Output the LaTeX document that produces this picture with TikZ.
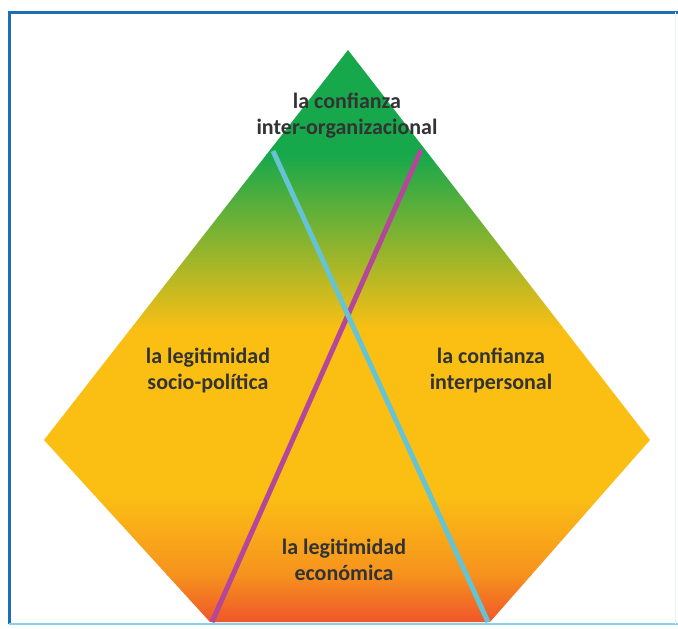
\documentclass[tikz,border=0pt]{standalone}
\usepackage{fontspec}
\setmainfont{Carlito}
\definecolor{frameblue}{HTML}{1E6FB2}
\definecolor{framelight}{HTML}{86D2EA}
\definecolor{pgreen}{HTML}{17A84B}
\definecolor{pyellow}{HTML}{FBBF14}
\definecolor{porange}{HTML}{F6921E}
\definecolor{pred}{HTML}{EF532A}
\definecolor{lcyan}{HTML}{66C3D3}
\definecolor{lmag}{HTML}{B4479A}
\definecolor{txt}{HTML}{333333}
\tikzset{
  lbl/.style={text=txt, font=\bfseries\fontsize{22}{26}\selectfont, align=center, inner sep=0pt},
  crossline/.style={line width=5pt, line cap=butt}
}
\begin{document}
\begin{tikzpicture}[x=1pt,y=-1pt]
\useasboundingbox (0,0) rectangle (678,629);
\fill[white] (0,0) rectangle (678,629);
% frame
\draw[frameblue, line width=3pt] (678,12) -- (9,12) -- (9,624);
\draw[framelight, line width=2pt] (9,624) -- (678,624);
\draw[framelight!20, line width=1pt] (675,12) -- (675,624);
% pentagon corners
\coordinate (apex) at (348,50);
\coordinate (rc) at (650,440);
\coordinate (br) at (490,622);
\coordinate (bl) at (210,622);
\coordinate (lc) at (44,440);
\begin{scope}
  \clip (apex) -- (rc) -- (br) -- (bl) -- (lc) -- cycle;
  \fill[pgreen] (30,40) rectangle (670,155);
  \shade[top color=pgreen, bottom color=pyellow] (30,154.5) rectangle (670,330);
  \fill[pyellow] (30,329.5) rectangle (670,495);
  \shade[top color=pyellow, bottom color=porange] (30,494.5) rectangle (670,575);
  \shade[top color=porange, bottom color=pred] (30,574.5) rectangle (670,625);
\end{scope}
% crossing lines
\coordinate (m1) at (421,150);
\coordinate (m2) at (212,622);
\coordinate (c1) at (273,151);
\coordinate (c2) at (488,622);
\draw[crossline, lmag] (m1) -- (m2);
\draw[crossline, lcyan] (c1) -- (c2);
% labels
\node[lbl] (top) at (347,116) {la confianza\\inter-organizacional};
\node[lbl] (left) at (208,370) {la legitimidad\\socio-política};
\node[lbl] (right) at (491,370) {la confianza\\interpersonal};
\node[lbl] (bottom) at (344,560) {la legitimidad\\económica};
\end{tikzpicture}
\end{document}
